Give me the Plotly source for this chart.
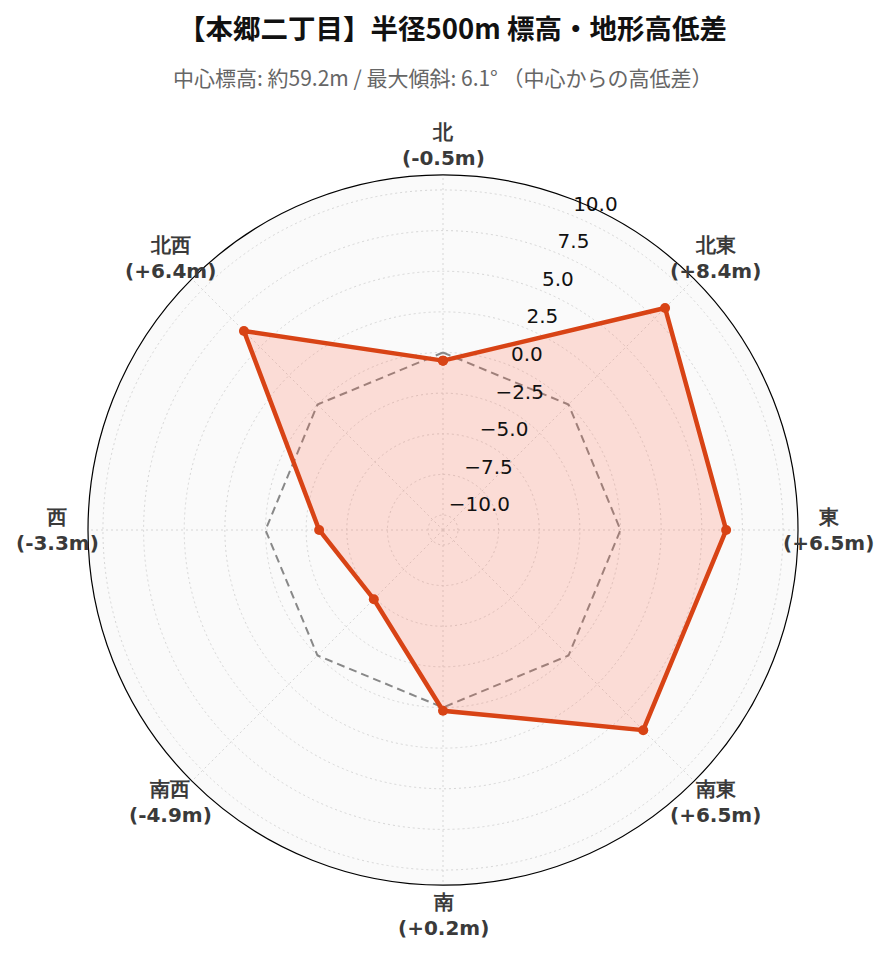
import math
import plotly.graph_objects as go

directions = ["北", "北東", "東", "南東", "南", "南西", "西", "北西"]
bearings = [0, 45, 90, 135, 180, 225, 270, 315]
diffs = [-0.5, 8.4, 6.5, 6.5, 0.2, -4.9, -3.3, 6.4]
reference = [0, 0, 0, 0, 0, 0, 0, 0]
radial_ticks = [-10.0, -7.5, -5.0, -2.5, 0.0, 2.5, 5.0, 7.5, 10.0]

title_text = "【本郷二丁目】半径500m 標高・地形高低差"
subtitle_text = "中心標高: 約59.2m / 最大傾斜: 6.1° （中心からの高低差）"

labels = [f"<b>{d}</b><br><b>({v:+.1f}m)</b>" for d, v in zip(directions, diffs)]
tick_text = [f"{t:.1f}".replace("-", "−") for t in radial_ticks]

lim = max(abs(v) for v in diffs) * 1.3
label_frac = 385 / 710  # label distance from centre, in plot-area fractions

fig = go.Figure()
fig.add_trace(go.Scatterpolar(
    r=reference + reference[:1],
    theta=bearings + bearings[:1],
    mode="lines",
    line=dict(color="#888888", width=2, dash="8px,5px"),
    showlegend=False,
    hoverinfo="skip",
))
fig.add_trace(go.Scatterpolar(
    r=diffs + diffs[:1],
    theta=bearings + bearings[:1],
    mode="lines+markers",
    fill="toself",
    fillcolor="rgba(255,99,71,0.2)",
    line=dict(color="#d84315", width=4.5),
    marker=dict(color="#d84315", size=10),
    showlegend=False,
))
# radial tick labels
fig.add_trace(go.Scatterpolar(
    r=radial_ticks,
    theta=[22.5] * len(radial_ticks),
    mode="text",
    text=tick_text,
    textposition="top right",
    textfont=dict(family="DejaVu Sans", size=20, color="#111111"),
    showlegend=False,
    hoverinfo="skip",
    cliponaxis=False,
))

annotations = [dict(
    text=subtitle_text,
    xref="paper", yref="paper", x=0.5, y=(877 - 69) / 710,
    xanchor="center", yanchor="middle", showarrow=False,
    font=dict(family="Noto Sans CJK JP", size=21, color="#666666"),
)]
for lab, b in zip(labels, bearings):
    a = math.radians(b)
    annotations.append(dict(
        text=lab,
        xref="paper", yref="paper",
        x=0.5 + label_frac * math.sin(a),
        y=0.5 + label_frac * math.cos(a),
        xanchor="center", yanchor="middle", showarrow=False,
        align="center",
        font=dict(family="DejaVu Sans", size=20, color="#3a3a3a"),
    ))

fig.update_layout(
    width=889,
    height=962,
    paper_bgcolor="white",
    margin=dict(l=80, r=99, t=167, b=85),
    title=dict(
        text=f"<b>{title_text}</b>",
        x=0.5, xanchor="center", y=1 - 21 / 962, yanchor="middle",
        font=dict(family="Noto Sans CJK JP", size=27.5, color="#111111"),
    ),
    annotations=annotations,
    polar=dict(
        bgcolor="#fafafa",
        angularaxis=dict(
            direction="clockwise",
            rotation=90,
            thetaunit="degrees",
            tickvals=bearings,
            showticklabels=False,
            showline=True,
            linecolor="black",
            linewidth=1.2,
            gridcolor="#d6d6d6",
            griddash="2px,3px",
            ticks="",
        ),
        radialaxis=dict(
            range=[-lim, lim],
            tickvals=radial_ticks,
            angle=67.5,
            showticklabels=False,
            showline=False,
            gridcolor="#d6d6d6",
            griddash="2px,3px",
            ticks="",
        ),
    ),
)

fig.write_html("out.html")
